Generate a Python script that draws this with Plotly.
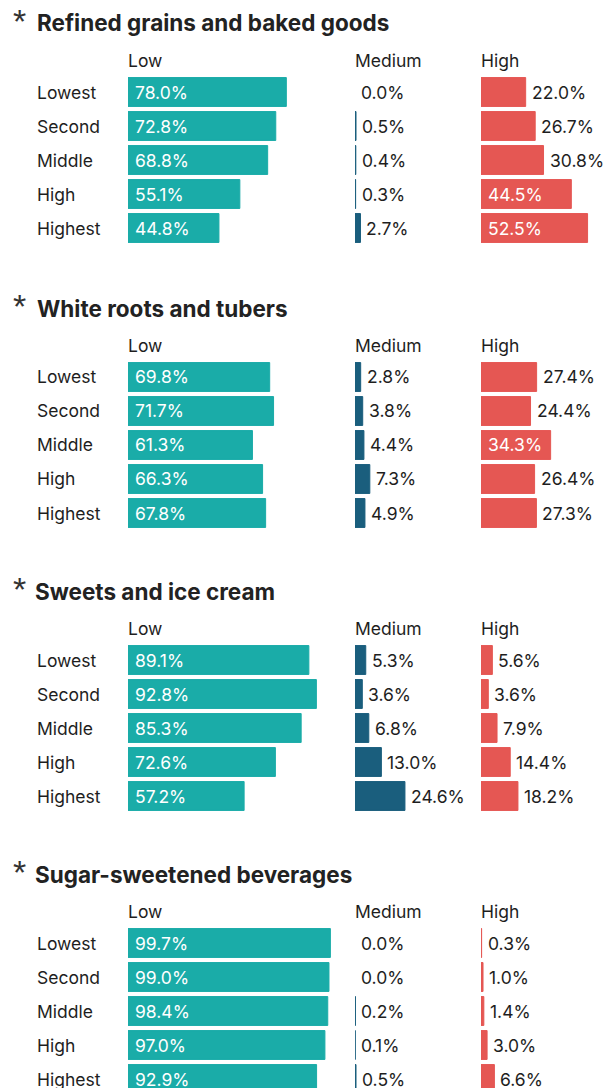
import plotly.graph_objects as go

W, H = 611, 1088

incomes = ["Lowest", "Second", "Middle", "High", "Highest"]
levels = ["Low", "Medium", "High"]
titles = [
    "Refined grains and baked goods",
    "White roots and tubers",
    "Sweets and ice cream",
    "Sugar-sweetened beverages",
]

# Share (%) of each income group at low / medium / high intake
grains_low = [78.0, 72.8, 68.8, 55.1, 44.8]
grains_med = [0.0, 0.5, 0.4, 0.3, 2.7]
grains_high = [22.0, 26.7, 30.8, 44.5, 52.5]

roots_low = [69.8, 71.7, 61.3, 66.3, 67.8]
roots_med = [2.8, 3.8, 4.4, 7.3, 4.9]
roots_high = [27.4, 24.4, 34.3, 26.4, 27.3]

sweets_low = [89.1, 92.8, 85.3, 72.6, 57.2]
sweets_med = [5.3, 3.6, 6.8, 13.0, 24.6]
sweets_high = [5.6, 3.6, 7.9, 14.4, 18.2]

ssb_low = [99.7, 99.0, 98.4, 97.0, 92.9]
ssb_med = [0.0, 0.0, 0.2, 0.1, 0.5]
ssb_high = [0.3, 1.0, 1.4, 3.0, 6.6]

panels = [
    (grains_low, grains_med, grains_high),
    (roots_low, roots_med, roots_high),
    (sweets_low, sweets_med, sweets_high),
    (ssb_low, ssb_med, ssb_high),
]

colors = ["#1aaca8", "#1a5e7d", "#e55753"]
FONT = "Inter"
TEXT = "#1e1e1e"
LABEL_SIZE = 17.5

# pixel layout
PX = 2.03                      # pixels per percentage point
col_x0 = [128, 355, 481]       # left edge of each column
col_w = [215, 118, 130]
row0 = [92, 377, 660, 943]     # centre of first row in each panel
title_x = [35, 35, 33, 33]
PITCH = 34
INSIDE_MIN = 33                # values at/above this get their label inside the bar

fig = go.Figure()
layout = dict(
    width=W, height=H,
    margin=dict(l=0, r=0, t=0, b=0),
    paper_bgcolor="white", plot_bgcolor="white",
    showlegend=False,
    font=dict(family=FONT, color=TEXT),
)
annotations = []

n = 0
for p, series in enumerate(panels):
    top = row0[p] - PITCH / 2
    bottom = min(row0[p] + 4 * PITCH + PITCH / 2, H)
    yrange = [-0.5 + (bottom - top) / PITCH, -0.5]

    # title with leading asterisk
    ty = row0[p] - 69
    annotations.append(dict(
        text="*", xref="paper", yref="paper", x=11 / W, y=1 - (ty - 2) / H,
        xanchor="left", yanchor="middle", showarrow=False,
        font=dict(size=34, color="#333333", family="Liberation Sans")))
    annotations.append(dict(
        text="<b>" + titles[p] + "</b>", xref="paper", yref="paper",
        x=title_x[p] / W, y=1 - ty / H, xanchor="left", yanchor="middle",
        showarrow=False, font=dict(size=22.5, color="#222222", family=FONT)))

    for c, vals in enumerate(series):
        n += 1
        xa = "x" if n == 1 else f"x{n}"
        ya = "y" if n == 1 else f"y{n}"
        xkey = "xaxis" if n == 1 else f"xaxis{n}"
        ykey = "yaxis" if n == 1 else f"yaxis{n}"

        fig.add_trace(go.Bar(
            x=vals, y=incomes, orientation="h",
            marker=dict(color=colors[c],
                        line=dict(color=colors[c],
                                  width=[1 if v > 0 else 0 for v in vals])),
            width=0.85, xaxis=xa, yaxis=ya, hoverinfo="skip",
        ))

        layout[xkey] = dict(
            domain=[col_x0[c] / W, (col_x0[c] + col_w[c]) / W],
            range=[0, col_w[c] / PX], anchor=ya,
            showgrid=False, zeroline=False, showticklabels=False,
            showline=False, fixedrange=True,
        )
        layout[ykey] = dict(
            domain=[1 - bottom / H, 1 - top / H],
            range=yrange, anchor=xa, type="category",
            categoryorder="array", categoryarray=incomes,
            showgrid=False, zeroline=False, showticklabels=False,
            showline=False, fixedrange=True,
        )

        # column header
        annotations.append(dict(
            text=levels[c], xref="paper", yref="paper",
            x=(col_x0[c] - 2) / W, y=1 - (row0[p] - 32) / H,
            xanchor="left", yanchor="middle", showarrow=False,
            font=dict(size=LABEL_SIZE, color=TEXT, family=FONT)))

        # value labels
        for inc, v in zip(incomes, vals):
            inside = v >= INSIDE_MIN
            annotations.append(dict(
                text=f"{v:.1f}%", xref=xa, yref=ya,
                x=0 if inside else v, y=inc,
                xanchor="left", yanchor="middle", showarrow=False,
                xshift=5 if inside else 4,
                font=dict(size=LABEL_SIZE, color="white" if inside else TEXT,
                          family=FONT)))

        # row labels beside the first column
        if c == 0:
            for inc in incomes:
                annotations.append(dict(
                    text=inc, xref="paper", yref=ya, x=35 / W, y=inc,
                    xanchor="left", yanchor="middle", showarrow=False,
                    font=dict(size=LABEL_SIZE, color=TEXT, family=FONT)))

layout["annotations"] = annotations
fig.update_layout(**layout)
fig.write_html("out.html")
